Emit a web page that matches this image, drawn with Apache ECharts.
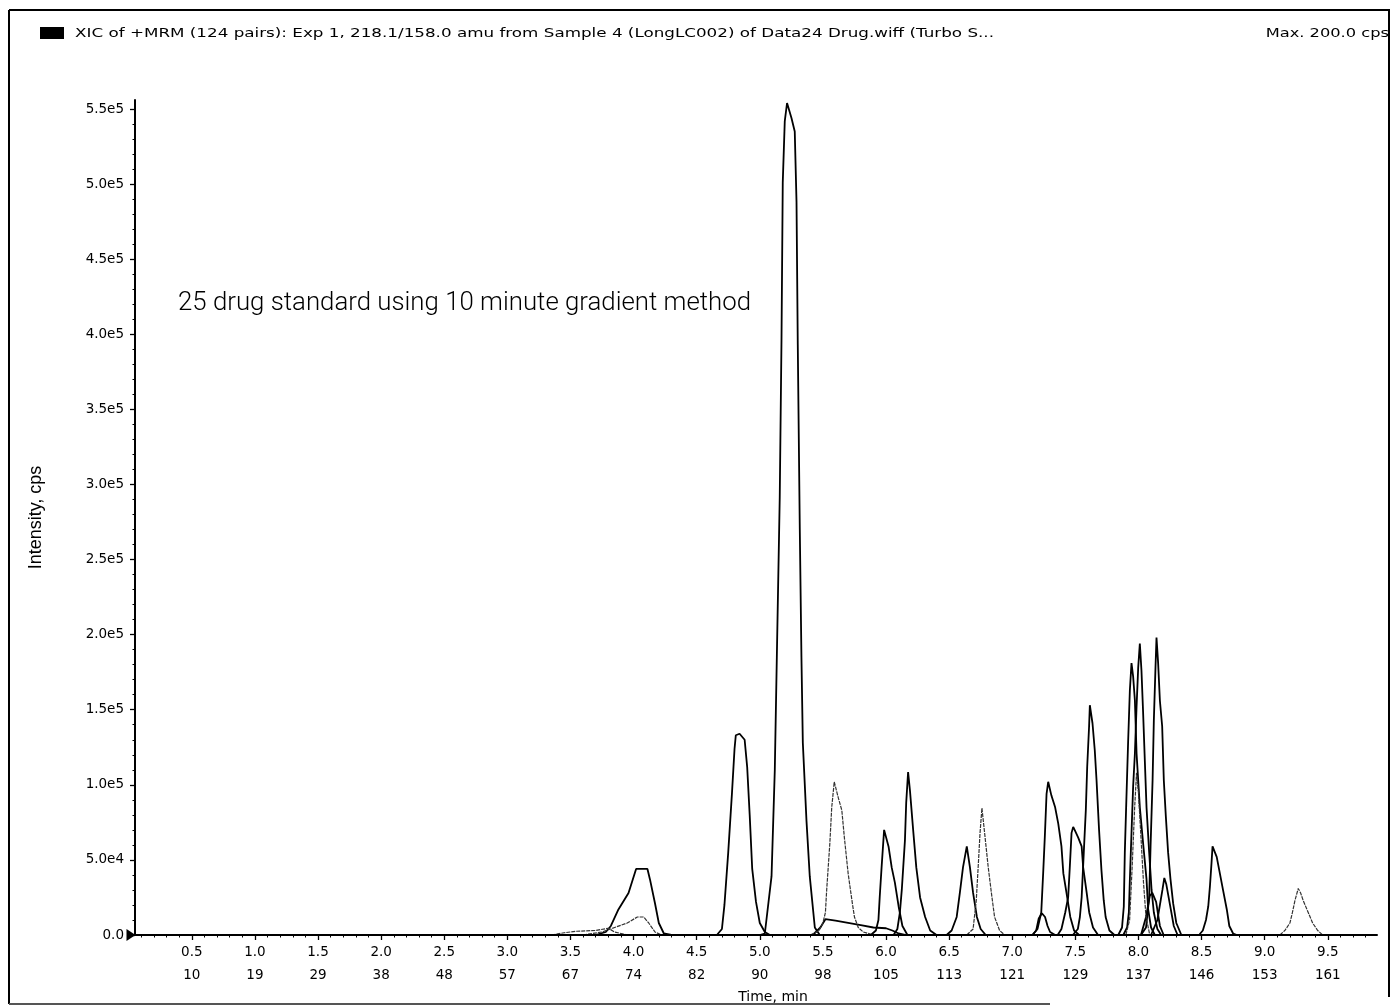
<!DOCTYPE html>
<html>
<head>
<meta charset="utf-8">
<script src="https://cdn.jsdelivr.net/npm/echarts@6/dist/echarts.min.js"></script>
<style>
  html, body { margin: 0; padding: 0; background: #fff; }
  #chart { width: 1392px; height: 1007px; }
</style>
</head>
<body>
<div id="chart"></div>
<script>
// Axis ticks: retention time (min) and the matching scan numbers
const timeTicks = [0.5, 1.0, 1.5, 2.0, 2.5, 3.0, 3.5, 4.0, 4.5, 5.0, 5.5, 6.0, 6.5, 7.0, 7.5, 8.0, 8.5, 9.0, 9.5];
const scanTicks = [10, 19, 29, 38, 48, 57, 67, 74, 82, 90, 98, 105, 113, 121, 129, 137, 146, 153, 161];
const intensityTicks = [0, 5e4, 1e5, 1.5e5, 2e5, 2.5e5, 3e5, 3.5e5, 4e5, 4.5e5, 5e5, 5.5e5];

// Extracted ion chromatogram traces: [time (min), intensity (cps)]
const trace_3_6 = [[3.35,0],[3.45,1500],[3.55,2500],[3.70,3000],[3.80,4500],[3.85,2000],[3.95,0]];
const trace_4_05 = [[3.70,0],[3.78,2000],[3.82,6000],[3.88,17000],[3.96,28000],[4.02,44000],[4.11,44000],[4.13,37000],[4.17,21000],[4.20,8000],[4.24,1000],[4.30,0]];
const trace_4_06 = [[3.60,0],[3.75,2000],[3.85,5000],[3.95,8000],[4.03,12000],[4.08,12000],[4.12,8000],[4.17,2000],[4.22,0]];
const trace_4_82 = [[4.66,0],[4.70,4000],[4.72,20000],[4.75,55000],[4.78,95000],[4.80,124000],[4.81,133000],[4.84,134000],[4.88,130000],[4.90,112000],[4.92,80000],[4.94,44000],[4.97,22000],[5.00,8000],[5.04,2000],[5.08,0]];
const trace_5_22 = [[5.00,0],[5.04,1000],[5.093,39000],[5.119,110000],[5.135,185000],[5.158,291000],[5.172,396000],[5.182,501000],[5.198,542000],[5.216,554000],[5.251,544000],[5.277,535000],[5.291,488000],[5.301,393000],[5.317,270000],[5.330,185000],[5.341,128000],[5.370,76000],[5.396,39000],[5.436,5000],[5.475,0]];
const trace_5_59 = [[5.40,0],[5.47,3000],[5.50,8000],[5.52,15000],[5.53,30000],[5.555,61000],[5.57,85000],[5.59,102000],[5.62,92000],[5.65,83000],[5.67,65000],[5.70,41000],[5.73,23000],[5.75,12000],[5.78,5000],[5.82,2000],[5.90,0]];
const trace_5_6_tail = [[5.42,0],[5.48,5000],[5.52,10500],[5.60,9500],[5.70,8000],[5.80,6500],[5.90,5000],[6.00,4500],[6.05,3000],[6.10,1000],[6.15,0]];
const trace_5_99 = [[5.88,0],[5.92,3000],[5.94,10000],[5.95,25000],[5.965,45000],[5.985,70000],[6.02,59000],[6.045,45000],[6.07,35000],[6.10,19000],[6.13,6000],[6.17,0]];
const trace_6_17 = [[6.06,0],[6.09,4000],[6.11,15000],[6.125,30000],[6.15,63000],[6.16,88000],[6.175,108500],[6.19,96000],[6.215,70000],[6.24,45000],[6.27,25000],[6.31,12000],[6.35,3000],[6.40,0]];
const trace_6_64 = [[6.48,0],[6.52,3000],[6.56,12000],[6.585,28000],[6.61,45000],[6.64,59000],[6.665,45000],[6.69,28000],[6.72,12000],[6.75,4000],[6.79,0]];
const trace_6_76 = [[6.64,0],[6.69,4000],[6.715,23000],[6.73,45000],[6.745,68000],[6.76,84500],[6.785,65000],[6.81,45000],[6.835,28000],[6.86,12000],[6.90,3000],[6.94,0]];
const trace_7_24 = [[7.16,0],[7.19,3000],[7.21,11000],[7.235,14500],[7.26,12000],[7.28,6000],[7.30,2000],[7.34,0]];
const trace_7_28 = [[7.16,0],[7.20,4000],[7.23,15000],[7.245,41000],[7.258,65000],[7.272,94000],[7.285,102000],[7.31,93000],[7.34,85000],[7.365,74000],[7.39,59000],[7.405,41000],[7.43,28000],[7.46,12000],[7.49,3000],[7.53,0]];
const trace_7_48 = [[7.36,0],[7.39,4000],[7.42,15000],[7.443,25000],[7.456,45000],[7.47,68000],[7.483,72000],[7.50,69000],[7.522,65000],[7.55,59000],[7.562,45000],[7.59,28000],[7.61,15000],[7.64,5000],[7.68,0]];
const trace_7_62 = [[7.48,0],[7.52,4000],[7.536,12000],[7.55,25000],[7.567,55000],[7.583,83000],[7.594,112000],[7.609,139000],[7.615,153000],[7.636,141000],[7.654,123000],[7.668,103000],[7.688,70000],[7.707,43000],[7.725,23000],[7.74,12000],[7.77,3000],[7.81,0]];
const trace_7_95 = [[7.84,0],[7.87,5000],[7.884,19000],[7.892,55000],[7.905,92000],[7.918,128000],[7.932,163000],[7.945,181000],[7.958,172000],[7.972,156000],[7.985,121000],[8.011,85000],[8.037,61000],[8.064,37000],[8.077,17000],[8.10,5000],[8.13,0]];
const trace_8_01 = [[7.88,0],[7.91,5000],[7.924,15000],[7.932,37000],[7.945,68000],[7.958,99000],[7.972,121000],[7.985,152000],[7.998,178000],[8.011,194000],[8.024,176000],[8.037,148000],[8.051,115000],[8.064,85000],[8.085,55000],[8.104,30000],[8.122,15000],[8.15,4000],[8.18,0]];
const trace_8_00 = [[7.90,0],[7.93,10000],[7.95,45000],[7.97,85000],[7.985,108000],[8.00,95000],[8.02,65000],[8.04,35000],[8.06,12000],[8.09,0]];
const trace_8_11 = [[8.02,0],[8.06,12000],[8.09,26000],[8.11,28000],[8.14,22000],[8.17,6000],[8.20,0]];
const trace_8_14 = [[8.02,0],[8.06,5000],[8.085,25000],[8.096,59000],[8.112,103000],[8.122,143000],[8.135,178000],[8.143,198000],[8.156,181000],[8.17,156000],[8.188,139000],[8.201,103000],[8.217,79000],[8.235,55000],[8.254,37000],[8.275,21000],[8.30,8000],[8.34,0]];
const trace_8_21 = [[8.10,0],[8.15,10000],[8.19,30000],[8.205,38000],[8.22,34000],[8.25,20000],[8.28,6000],[8.31,0]];
const trace_8_59 = [[8.48,0],[8.51,3000],[8.535,10000],[8.553,19000],[8.566,32000],[8.579,48000],[8.587,59000],[8.62,52000],[8.645,41000],[8.67,30000],[8.70,17000],[8.72,6000],[8.75,1000],[8.78,0]];
const trace_9_27 = [[9.12,0],[9.16,3000],[9.20,8000],[9.22,15000],[9.24,23000],[9.266,31000],[9.285,28000],[9.305,23000],[9.345,15000],[9.38,8000],[9.42,3000],[9.46,0]];

const solidTraces = [trace_4_05, trace_4_82, trace_5_22, trace_5_6_tail, trace_5_99, trace_6_17, trace_6_64,
  trace_7_24, trace_7_28, trace_7_48, trace_7_62, trace_7_95, trace_8_01, trace_8_11, trace_8_14, trace_8_21, trace_8_59];
const thinTraces = [trace_3_6, trace_4_06, trace_5_59, trace_6_76, trace_8_00, trace_9_27];

const xMin = 0.05, xMax = 9.89, yMax = 5.56e5;
const axisFont = 'DejaVu Sans, Arial, sans-serif';
const headerFont = '12.5px "DejaVu Sans", Arial, sans-serif';

function sciLabel(v) {
  if (v === 0) return '0.0';
  const e = Math.floor(Math.log10(v) + 1e-9);
  return (v / Math.pow(10, e)).toFixed(1) + 'e' + e;
}

const minorX = [], minorY = [];
for (let i = 1; i <= 98; i++) minorX.push(i / 10);
for (let i = 1; i <= 55; i++) minorY.push(i * 1e4);

const series = [];
solidTraces.forEach(d => series.push({
  type: 'line', data: d, showSymbol: false, animation: false, silent: true,
  lineStyle: { color: '#000', width: 1.8 }
}));
thinTraces.forEach(d => series.push({
  type: 'line', data: d, showSymbol: false, animation: false, silent: true,
  lineStyle: { color: '#333', width: 1.2, type: [4, 1] }
}));
// origin marker on the baseline
series.push({
  type: 'line', data: [[xMin, 0], [xMax, 0]], showSymbol: false, animation: false, silent: true,
  lineStyle: { color: '#000', width: 2 },
  markPoint: {
    silent: true, animation: false,
    symbol: 'path://M0,0 L10,6 L0,12 Z', symbolSize: [9, 12], symbolOffset: [-4, 0],
    itemStyle: { color: '#000' }, label: { show: false },
    data: [{ coord: [xMin, 0] }]
  }
});

const chart = echarts.init(document.getElementById('chart'), null, { renderer: 'canvas' });
chart.setOption({
  animation: false,
  backgroundColor: '#fff',
  grid: { left: 135, right: 15, top: 100, bottom: 72 },
  xAxis: [{
    type: 'value', min: xMin, max: xMax,
    axisLine: { show: true, lineStyle: { color: '#000', width: 2 } },
    axisTick: { show: true, customValues: timeTicks, length: 5, lineStyle: { color: '#000', width: 1.3 } },
    axisLabel: {
      customValues: timeTicks, margin: 6, color: '#000', fontFamily: axisFont, fontSize: 13.5, lineHeight: 23,
      formatter: v => {
        const i = timeTicks.findIndex(t => Math.abs(t - v) < 1e-6);
        return v.toFixed(1) + '\n' + (i >= 0 ? scanTicks[i] : '');
      }
    },
    splitLine: { show: false }
  }, {
    type: 'value', min: xMin, max: xMax, position: 'bottom',
    axisLine: { show: false },
    axisTick: { show: true, customValues: minorX, length: 2.5, lineStyle: { color: '#000', width: 1 } },
    axisLabel: { show: false }, splitLine: { show: false }
  }],
  yAxis: [{
    type: 'value', min: 0, max: yMax,
    axisLine: { show: true, lineStyle: { color: '#000', width: 2 } },
    axisTick: { show: true, customValues: intensityTicks, length: 5, lineStyle: { color: '#000', width: 1.3 } },
    axisLabel: { customValues: intensityTicks, margin: 11, color: '#000', fontFamily: axisFont, fontSize: 13.5, formatter: sciLabel },
    splitLine: { show: false },
    name: 'Intensity, cps', nameLocation: 'middle', nameRotate: 90, nameGap: 90,
    nameTextStyle: { color: '#000', fontFamily: 'Liberation Sans, Arial, sans-serif', fontSize: 18 }
  }, {
    type: 'value', min: 0, max: yMax, position: 'left',
    axisLine: { show: false },
    axisTick: { show: true, customValues: minorY, length: 2.5, lineStyle: { color: '#000', width: 1 } },
    axisLabel: { show: false }, splitLine: { show: false }
  }],
  series: series,
  graphic: [
    // outer frame
    { type: 'line', shape: { x1: 9, y1: 10, x2: 1390, y2: 10 }, style: { stroke: '#000', lineWidth: 2 } },
    { type: 'line', shape: { x1: 9, y1: 10, x2: 9, y2: 1004 }, style: { stroke: '#000', lineWidth: 2 } },
    { type: 'line', shape: { x1: 1389, y1: 10, x2: 1389, y2: 997 }, style: { stroke: '#000', lineWidth: 2 } },
    { type: 'line', shape: { x1: 9, y1: 1004, x2: 1050, y2: 1004 }, style: { stroke: '#555', lineWidth: 2 } },
    // legend swatch and header
    { type: 'rect', shape: { x: 40, y: 27, width: 24, height: 12 }, style: { fill: '#000' } },
    { type: 'text', x: 75, y: 34, scaleX: 1.34, style: {
      text: 'XIC of +MRM (124 pairs): Exp 1, 218.1/158.0 amu from Sample 4 (LongLC002) of Data24 Drug.wiff (Turbo S...',
      fill: '#000', font: headerFont, verticalAlign: 'middle', textAlign: 'left' } },
    { type: 'text', x: 1389, y: 34, scaleX: 1.3, style: {
      text: 'Max. 200.0 cps', fill: '#000', font: headerFont, verticalAlign: 'middle', textAlign: 'right' } },
    // annotation
    { type: 'text', x: 178, y: 304, style: {
      text: '25 drug standard using 10 minute gradient method',
      fill: '#000', font: '300 25.8px Roboto, sans-serif', verticalAlign: 'middle', textAlign: 'left' } },
    // time axis title
    { type: 'text', x: 773, y: 997, style: {
      text: 'Time, min', fill: '#000', font: '14px "DejaVu Sans", Arial, sans-serif', verticalAlign: 'middle', textAlign: 'center' } }
  ]
});
</script>
</body>
</html>
